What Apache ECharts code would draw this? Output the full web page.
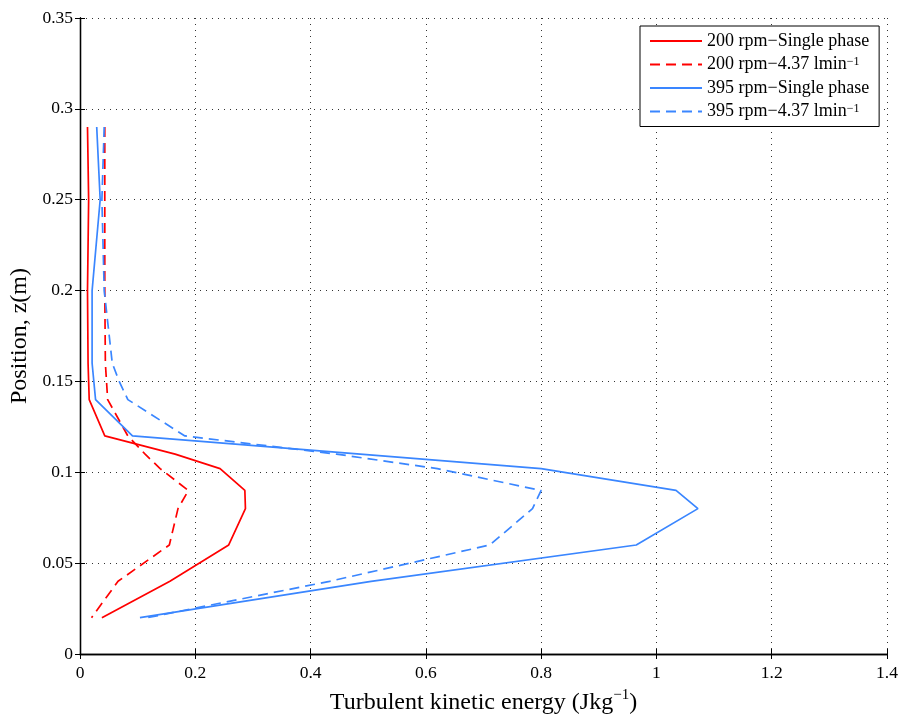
<!DOCTYPE html>
<html>
<head>
<meta charset="utf-8">
<script src="https://cdn.jsdelivr.net/npm/echarts@6/dist/echarts.min.js"></script>
<style>
  html, body { margin: 0; padding: 0; background: #fff; }
  #chart { width: 901px; height: 719px; }
</style>
</head>
<body>
<div id="chart"></div>
<script>
// Vertical profiles of turbulent kinetic energy: [TKE (J/kg), z (m)]
const red200Single = [
  [0.013, 0.29], [0.015, 0.25], [0.013, 0.20], [0.014, 0.16], [0.016, 0.14],
  [0.043, 0.12], [0.165, 0.11], [0.243, 0.102], [0.286, 0.09], [0.287, 0.08],
  [0.258, 0.06], [0.156, 0.04], [0.038, 0.02]
];
const red200Gas = [
  [0.043, 0.29], [0.043, 0.25], [0.043, 0.20], [0.044, 0.16], [0.048, 0.14],
  [0.083, 0.12], [0.113, 0.11], [0.139, 0.102], [0.188, 0.09], [0.170, 0.08],
  [0.155, 0.06], [0.066, 0.04], [0.020, 0.02]
];
const blue395Single = [
  [0.029, 0.29], [0.035, 0.25], [0.021, 0.20], [0.021, 0.16], [0.027, 0.14],
  [0.091, 0.12], [0.800, 0.102], [1.034, 0.09], [1.072, 0.08], [0.965, 0.06],
  [0.505, 0.04], [0.104, 0.02]
];
const blue395Gas = [
  [0.042, 0.29], [0.038, 0.25], [0.042, 0.20], [0.056, 0.16], [0.068, 0.15],
  [0.083, 0.14], [0.182, 0.12], [0.445, 0.11], [0.620, 0.102], [0.800, 0.09],
  [0.785, 0.08], [0.711, 0.06], [0.433, 0.04], [0.117, 0.02]
];
const seriesNames = [
  '200 rpm\u2212Single phase',
  '200 rpm\u22124.37 lmin\u207B\u00B9',
  '395 rpm\u2212Single phase',
  '395 rpm\u22124.37 lmin\u207B\u00B9'
];
const legendLabels = [
  '200 rpm\u2212Single phase',
  '200 rpm\u22124.37 lmin{sup|\u22121}',
  '395 rpm\u2212Single phase',
  '395 rpm\u22124.37 lmin{sup|\u22121}'
];
const xMin = 0, xMax = 1.4, xStep = 0.2;
const yMin = 0, yMax = 0.35, yStep = 0.05;

const FONT = 'Liberation Serif';
const RED = '#ff0000';
const BLUE = '#3a86ff';

const chart = echarts.init(document.getElementById('chart'), null, { renderer: 'canvas' });

const gridLine = { show: true, lineStyle: { color: '#333', width: 1, type: [1, 5] } };
const tickIn = { show: true, inside: true, length: 5, lineStyle: { color: '#000', width: 1 } };
const axisLine = { show: true, lineStyle: { color: '#000', width: 1.3 } };

function mkLine(name, data, color, dashed) {
  return {
    type: 'line', name, data, symbol: 'none', xAxisIndex: 0, yAxisIndex: 0,
    lineStyle: { color, width: 1.7, type: dashed ? [10, 6] : 'solid' },
    itemStyle: { color },
    animation: false
  };
}

const nameMap = {};
seriesNames.forEach((n, i) => { nameMap[n] = legendLabels[i]; });

chart.setOption({
  backgroundColor: '#fff',
  animation: false,
  grid: { left: 80, right: 14, top: 18, bottom: 65, containLabel: false, outerBoundsMode: 'none' },
  legend: {
    orient: 'vertical', left: 640, top: 26,
    data: seriesNames,
    backgroundColor: '#fff', borderColor: '#000', borderWidth: 1,
    padding: [6, 10, 6, 9], itemWidth: 52, itemHeight: 14, itemGap: 5.5,
    itemStyle: { opacity: 0 },
    formatter: n => nameMap[n],
    textStyle: {
      fontFamily: FONT, fontSize: 18, color: '#000', lineHeight: 18,
      rich: { sup: { fontFamily: FONT, fontSize: 12, color: '#000', verticalAlign: 'top', lineHeight: 10 } }
    }
  },
  xAxis: [
    {
      type: 'value', min: xMin, max: xMax, interval: xStep, position: 'bottom',
      name: 'Turbulent kinetic energy (Jkg{sup|\u22121})',
      nameLocation: 'middle', nameGap: 34,
      nameTextStyle: {
        fontFamily: FONT, fontSize: 24, color: '#000',
        rich: { sup: { fontFamily: FONT, fontSize: 15, color: '#000', verticalAlign: 'top', padding: [0, 0, 14, 0] } }
      },
      axisLine, axisTick: tickIn, splitLine: gridLine,
      axisLabel: { fontFamily: FONT, fontSize: 17.5, color: '#000', margin: 10 }
    },
    {
      type: 'value', min: xMin, max: xMax, interval: xStep, position: 'top',
      axisLine, axisTick: tickIn, splitLine: { show: false }, axisLabel: { show: false }
    }
  ],
  yAxis: [
    {
      type: 'value', min: yMin, max: yMax, interval: yStep, position: 'left',
      name: 'Position, z(m)', nameLocation: 'middle', nameGap: 46,
      nameTextStyle: { fontFamily: FONT, fontSize: 24, color: '#000' },
      axisLine, axisTick: tickIn, splitLine: gridLine,
      axisLabel: { fontFamily: FONT, fontSize: 17.5, color: '#000', margin: 7 }
    },
    {
      type: 'value', min: yMin, max: yMax, interval: yStep, position: 'right',
      axisLine, axisTick: tickIn, splitLine: { show: false }, axisLabel: { show: false }
    }
  ],
  series: [
    mkLine(seriesNames[0], red200Single, RED, false),
    mkLine(seriesNames[1], red200Gas, RED, true),
    mkLine(seriesNames[2], blue395Single, BLUE, false),
    mkLine(seriesNames[3], blue395Gas, BLUE, true)
  ]
});
</script>
</body>
</html>
